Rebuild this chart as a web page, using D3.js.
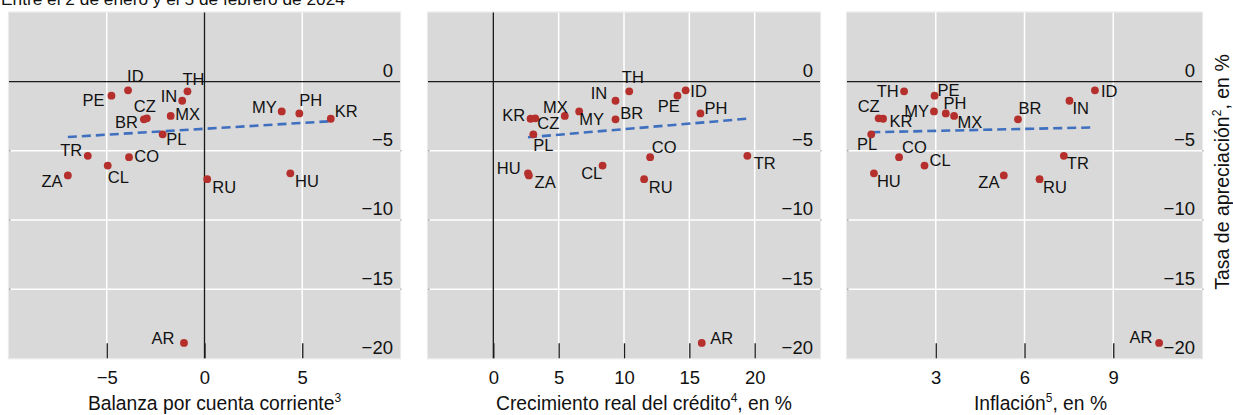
<!DOCTYPE html>
<html>
<head>
<meta charset="utf-8">
<script src="https://cdn.jsdelivr.net/npm/d3@7"></script>
<style>
  html, body { margin: 0; padding: 0; background: #ffffff; }
  svg { display: block; font-family: "Liberation Sans", Arial, sans-serif; }
</style>
</head>
<body>
<svg id="chart" width="1233" height="415"></svg>
<script>
// Emerging-market currencies: appreciation vs. fundamentals
const countries      = ["ID", "PE", "TH", "IN", "CZ", "BR", "MX", "PL", "MY", "PH", "KR", "TR", "CO", "CL", "ZA", "RU", "HU", "AR"];
const appreciation   = [-0.63, -1.01, -0.70, -1.38, -2.65, -2.72, -2.48, -3.81, -2.15, -2.30, -2.68, -5.36, -5.46, -6.07, -6.78, -7.05, -6.63, -18.89];
const currentAccount = [-3.91, -4.76, -0.87, -1.14, -2.95, -3.10, -1.73, -2.14, 3.95, 4.85, 6.46, -5.97, -3.86, -4.95, -6.99, 0.14, 4.39, -1.05];
const creditGrowth   = [14.72, 14.09, 10.40, 9.35, 3.21, 9.35, 5.47, 3.06, 6.57, 15.85, 2.85, 19.44, 12.00, 8.36, 2.72, 11.54, 2.65, 15.95];
const inflation      = [8.38, 2.96, 1.93, 7.52, 1.07, 5.78, 3.62, 0.82, 2.94, 3.34, 1.22, 7.33, 1.76, 2.62, 5.30, 6.51, 0.91, 10.55];

const yTicks = [0, -5, -10, -15, -20];
const xTicksCA = [-5, 0, 5];
const xTicksCredit = [0, 5, 10, 15, 20];
const xTicksInfl = [3, 6, 9];

// Outlier left out of the fitted trend line
const trendExclude = ["AR"];

const titleText = "Entre el 2 de enero y el 5 de febrero de 2024";
const yTitle = ["Tasa de apreciación", "2", ", en %"];

// Label placement per panel: [text-anchor, dx, dy] relative to the dot centre
const labelLayout = [
  { ID:["start",-1,-8], PE:["end",-7,10.5], TH:["start",-5,-6], IN:["end",-5,1], CZ:["middle",-2,-6],
    BR:["end",-6,8.5], MX:["start",4.5,4.5], PL:["start",3.5,11], MY:["end",-5,1.7], PH:["start",0,-7.3],
    KR:["start",4,-1.7], TR:["end",-5.5,0.7], CO:["start",5.3,5.3], CL:["start",0,17.7], ZA:["end",-5.3,11.7],
    RU:["start",5,14], HU:["start",4.7,13.7], AR:["end",-9.5,0.6] },
  { TH:["start",-7.4,-8.7], IN:["end",-8.3,-2], ID:["start",4.7,6.7], PE:["end",2.3,16.4], PH:["start",4,0.3],
    MY:["start",0,14], MX:["end",3,-3.4], BR:["start",4.7,0], KR:["end",-5.3,2.3], CZ:["start",2,11],
    PL:["start",0,16.7], CO:["start",1.6,-4.3], TR:["start",6.3,13.6], CL:["end",-0.3,13.7], HU:["end",-7.3,0.3],
    ZA:["start",5.7,12.4], RU:["start",4.6,13.7], AR:["start",8.4,0.6] },
  { TH:["end",-5.4,5.7], PE:["start",3,0.7], ID:["start",6,6.7], IN:["start",3,13], CZ:["end",1,-6],
    KR:["start",6.3,8.7], MY:["end",-5,5.7], PH:["start",-2.4,-4.3], MX:["start",3.3,11.6], BR:["start",0.6,-5.4],
    PL:["end",6,16], CO:["start",3,-4.3], CL:["start",5,0.4], HU:["start",3,13.7], ZA:["end",-4.4,12.7],
    RU:["start",3.4,13.7], TR:["start",3,13.6], AR:["end",-6.7,0] }
];

const panels = [
  { x: currentAccount, domain: [-10, 10], range: [9, 400], ticks: xTicksCA,
    title: ["Balanza por cuenta corriente", "3", ""], titleShift: 10 },
  { x: creditGrowth, domain: [-5, 25], range: [428, 820], ticks: xTicksCredit,
    title: ["Crecimiento real del crédito", "4", ", en %"], titleShift: 20 },
  { x: inflation, domain: [0, 12], range: [847, 1202], ticks: xTicksInfl,
    title: ["Inflación", "5", ", en %"], titleShift: 16 }
];

const plotTop = 12.5, plotBottom = 358.3;
const y = d3.scaleLinear().domain([-20, 5]).range([plotBottom, plotTop]);

const svg = d3.select("#chart");
const FONT_TICK = 18.5, FONT_TITLE = 19.3, FONT_LABEL = 16.5;
const dotColor = "#b5302c";
const trendColor = "#3f6fbf";

// Title, clipped by the top edge of the page
svg.append("text")
  .attr("x", 1).attr("y", 4.5)
  .attr("font-size", 17.3).attr("fill", "#111")
  .text(titleText);

function addSupText(sel, parts, fontSize) {
  sel.append("tspan").text(parts[0]);
  sel.append("tspan").attr("font-size", fontSize * 0.62).attr("dy", -fontSize * 0.42).text(parts[1]);
  if (parts[2]) sel.append("tspan").attr("dy", fontSize * 0.42).text(parts[2]);
}

panels.forEach((p, pi) => {
  const x = d3.scaleLinear().domain(p.domain).range(p.range);
  const g = svg.append("g");
  const [x0, x1] = p.range;

  // light frame and grey plot background
  g.append("rect")
    .attr("x", x0 - 0.5).attr("y", plotTop - 0.5)
    .attr("width", x1 - x0 + 1).attr("height", plotBottom - plotTop + 1)
    .attr("fill", "none").attr("stroke", "#ebebeb").attr("stroke-width", 1.2);
  g.append("rect")
    .attr("x", x0).attr("y", plotTop)
    .attr("width", x1 - x0).attr("height", plotBottom - plotTop)
    .attr("fill", "#d9d9d9");

  // white grid lines
  g.selectAll(".hgrid").data(yTicks.filter(t => t !== 0 && t !== -20)).join("line")
    .attr("x1", x0).attr("x2", x1)
    .attr("y1", d => y(d)).attr("y2", d => y(d))
    .attr("stroke", "#ffffff").attr("stroke-width", 1.5);
  g.selectAll(".vgrid").data(p.ticks.filter(t => t !== 0)).join("line")
    .attr("x1", d => x(d)).attr("x2", d => x(d))
    .attr("y1", plotTop).attr("y2", plotBottom)
    .attr("stroke", "#ffffff").attr("stroke-width", 1.5);

  // tiny edge ticks at the grid lines
  yTicks.filter(t => t !== 0 && t !== -20).forEach(t => {
    g.append("line").attr("x1", x0).attr("x2", x0 + 1.5).attr("y1", y(t)).attr("y2", y(t))
      .attr("stroke", "#777").attr("stroke-width", 1);
    g.append("line").attr("x1", x1 + 0.5).attr("x2", x1 + 1.5).attr("y1", y(t)).attr("y2", y(t))
      .attr("stroke", "#777").attr("stroke-width", 1);
  });

  // zero lines
  g.append("line")
    .attr("x1", x0).attr("x2", x1).attr("y1", y(0)).attr("y2", y(0))
    .attr("stroke", "#1a1a1a").attr("stroke-width", 1.3);
  if (p.domain[0] < 0 && p.domain[1] > 0) {
    g.append("line")
      .attr("x1", x(0)).attr("x2", x(0)).attr("y1", plotTop).attr("y2", plotBottom)
      .attr("stroke", "#1a1a1a").attr("stroke-width", 1.3);
  }

  // bottom axis with inward ticks
  const xAxis = d3.axisBottom(x).tickValues(p.ticks).tickSize(-15).tickPadding(0)
    .tickFormat(d3.format("d"));
  const ax = g.append("g").attr("transform", `translate(0,${plotBottom})`).call(xAxis);
  ax.select(".domain").remove();
  ax.selectAll(".tick line").attr("stroke", "#1a1a1a").attr("stroke-width", 1.3);
  ax.selectAll(".tick text")
    .attr("font-family", "Liberation Sans, Arial, sans-serif")
    .attr("font-size", FONT_TICK).attr("fill", "#111")
    .attr("y", 26).attr("dy", 0);

  // y tick labels inside the plot, right aligned above each line
  const ay = d3.axisRight(y).tickValues(yTicks).tickSize(0).tickPadding(0).tickFormat(d3.format("d"));
  const ayg = g.append("g").attr("transform", `translate(${x1 - 7},0)`).call(ay);
  ayg.select(".domain").remove();
  ayg.selectAll(".tick text")
    .attr("font-family", "Liberation Sans, Arial, sans-serif")
    .attr("font-size", FONT_TICK).attr("fill", "#111")
    .attr("text-anchor", "end").attr("x", 0).attr("dy", -5);

  // fitted trend line (outlier excluded), from min to max x
  const idx = countries.map((c, i) => i).filter(i => !trendExclude.includes(countries[i]));
  const xs = idx.map(i => p.x[i]), ys = idx.map(i => appreciation[i]);
  const mx = d3.mean(xs), my = d3.mean(ys);
  const slope = d3.sum(xs.map((v, k) => (v - mx) * (ys[k] - my))) / d3.sum(xs.map(v => (v - mx) ** 2));
  const xmin = d3.min(xs), xmax = d3.max(xs);
  g.append("line")
    .attr("x1", x(xmin)).attr("y1", y(my + slope * (xmin - mx)))
    .attr("x2", x(xmax)).attr("y2", y(my + slope * (xmax - mx)))
    .attr("stroke", trendColor).attr("stroke-width", 2.6)
    .attr("stroke-dasharray", "9,5");

  // points
  g.selectAll(".dot").data(countries).join("circle")
    .attr("cx", (c, i) => x(p.x[i])).attr("cy", (c, i) => y(appreciation[i]))
    .attr("r", 3.9).attr("fill", dotColor);

  // country labels
  const layout = labelLayout[pi];
  g.selectAll(".lbl").data(countries).join("text")
    .attr("x", (c, i) => x(p.x[i]) + layout[c][1])
    .attr("y", (c, i) => y(appreciation[i]) + layout[c][2])
    .attr("text-anchor", c => layout[c][0])
    .attr("font-size", FONT_LABEL).attr("fill", "#111")
    .text(c => c);

  // x-axis title
  const t = g.append("text")
    .attr("x", (x0 + x1) / 2 + p.titleShift).attr("y", 410)
    .attr("text-anchor", "middle").attr("font-size", FONT_TITLE).attr("fill", "#111");
  addSupText(t, p.title, FONT_TITLE);
});

// y-axis title on the right
const yt = svg.append("text")
  .attr("transform", "translate(1229,172) rotate(-90)")
  .attr("text-anchor", "middle").attr("font-size", 19.5).attr("fill", "#111");
addSupText(yt, yTitle, 19.5);
</script>
</body>
</html>
